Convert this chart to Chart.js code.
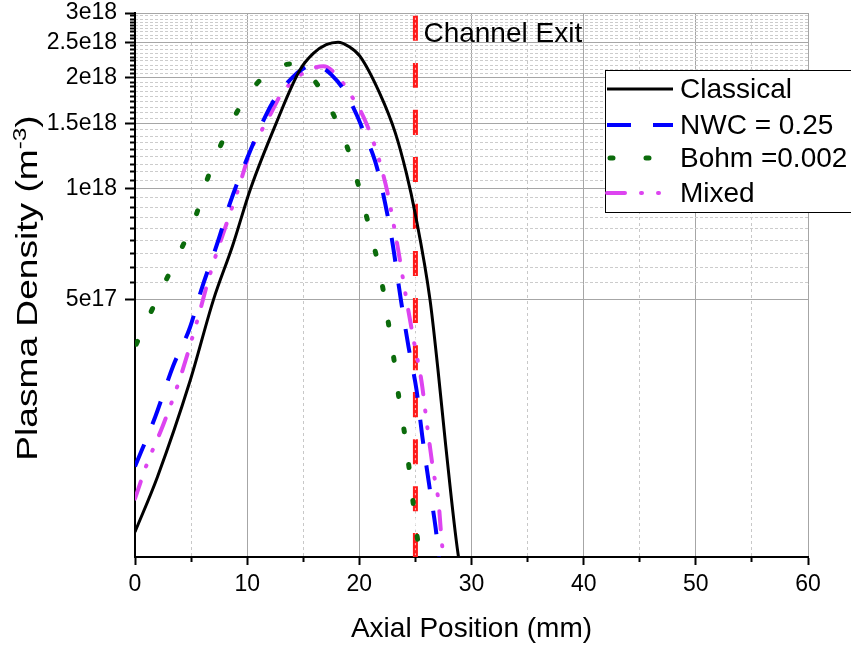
<!DOCTYPE html>
<html>
<head>
<meta charset="utf-8">
<title>Plasma Density</title>
<script src="https://cdn.jsdelivr.net/npm/chart.js@4.4.0/dist/chart.umd.min.js"></script>
<style>
  html, body { margin: 0; padding: 0; background: #fff; }
  #wrap { width: 851px; height: 647px; }
</style>
</head>
<body>
<div id="wrap"><canvas id="densityChart" width="851" height="647"></canvas></div>
<script>
/* =====================================
   Data
===================================== */
const classicalX = [0, 2, 4.9, 7, 8.7, 10.3, 12.6, 14.7, 15.9, 17.05, 18.1, 19.1, 20.05, 21.8, 23.2, 24.2, 25.0, 26.3, 27.0, 27.7, 28.8, 29.0];
const classicalY = [1.17e17, 1.65e17, 3.0e17, 5.0e17, 7.0e17, 1.0e18, 1.51e18, 2.1e18, 2.33e18, 2.46e18, 2.5e18, 2.43e18, 2.29e18, 1.82e18, 1.42e18, 1.1e18, 8.5e17, 5.0e17, 3.25e17, 2.01e17, 1.02e17, 0.95e17];

const nwcX = [0, 1.8, 3.4, 4.9, 5.9, 7.4, 8.5, 10.1, 11.7, 12.6, 14.0, 15.0, 15.8, 16.5, 17.5, 18.7, 19.75, 20.5, 21.4, 21.9, 22.9, 23.7, 24.4, 25.1, 25.6, 26.2, 26.8, 27.1];
const nwcY = [1.76e17, 2.4e17, 3.3e17, 4.2e17, 5.3e17, 7.2e17, 9.2e17, 1.23e18, 1.59e18, 1.78e18, 2.0e18, 2.12e18, 2.17e18, 2.15e18, 2.04e18, 1.84e18, 1.59e18, 1.40e18, 1.19e18, 1.04e18, 7.3e17, 5.0e17, 3.7e17, 2.84e17, 2.14e17, 1.59e17, 1.2e17, 1.0e17];

const bohmX = [0, 1.34, 2.76, 4.19, 5.44, 6.44, 7.63, 9.07, 10.8, 12.3, 13.8, 15.2, 16.35, 17.9, 19.1, 20.0, 21.0, 21.9, 22.6, 23.2, 23.6, 24.1, 24.5, 24.9, 25.3, 25.5];
const bohmY = [3.72e17, 4.57e17, 5.64e17, 6.93e17, 8.47e17, 1.06e18, 1.31e18, 1.61e18, 1.92e18, 2.1e18, 2.18e18, 2.08e18, 1.9e18, 1.54e18, 1.25e18, 1.0e18, 7.6e17, 5.8e17, 4.3e17, 3.25e17, 2.6e17, 2.1e17, 1.68e17, 1.32e17, 1.05e17, 0.95e17];

const mixedX = [0, 1.04, 2.5, 4.0, 5.8, 6.4, 7.1, 8.2, 9.1, 10.4, 11.4, 12.2, 12.9, 13.5, 15.2, 16.8, 18.3, 19.0, 19.9, 20.6, 21.4, 22.1, 22.5, 23.4, 24.2, 24.9, 25.55, 26.0, 26.6, 27.05, 27.35, 27.6];
const mixedY = [1.44e17, 1.78e17, 2.28e17, 3.05e17, 4.67e17, 5.46e17, 6.44e17, 8.1e17, 9.76e17, 1.29e18, 1.46e18, 1.62e18, 1.78e18, 1.88e18, 2.08e18, 2.15e18, 1.98e18, 1.84e18, 1.67e18, 1.51e18, 1.30e18, 1.1e18, 0.98e18, 7.0e17, 5.0e17, 3.8e17, 2.99e17, 2.33e17, 1.71e17, 1.42e17, 1.1e17, 0.95e17];

const channelExit = 25;
const channelLabel = "Channel Exit";

const xMin = 0, xMax = 60;
const xTickValues = [0, 10, 20, 30, 40, 50, 60];
const xMinorValues = [5, 15, 25, 35, 45, 55];

const yMin = 1e17, yMax = 3e18;
const yTickValues = [5e17, 1e18, 1.5e18, 2e18, 2.5e18, 3e18];
const yTickLabels = ["5e17", "1e18", "1.5e18", "2e18", "2.5e18", "3e18"];
const minorPerInterval = 8;

const yTitleMain = "Plasma Density (m";
const yTitleSup = "-3";
const yTitleEnd = ")";

/* =====================================
   Helpers
===================================== */
const FONT = "'Liberation Sans', Arial, sans-serif";

function toPoints(xs, ys) {
  return xs.map((x, i) => ({ x: x, y: ys[i] }));
}

// minor ticks: 8 evenly spaced values inside every major interval
function buildMinorTicks() {
  const out = [];
  for (let i = 0; i < yTickValues.length - 1; i++) {
    const a = yTickValues[i];
    const b = yTickValues[i + 1];
    for (let k = 1; k <= minorPerInterval; k++) {
      out.push({ value: a + (b - a) * k / (minorPerInterval + 1) });
    }
  }
  return out;
}

/* =====================================
   Plugins: legend box, channel label, y title
===================================== */
const legendBox = {
  id: "legendBox",
  afterDraw(chart) {
    const ctx = chart.ctx;
    const left = 605.5, top = 70.5, w = 270, h = 142;
    ctx.save();
    ctx.fillStyle = "#fff";
    ctx.fillRect(left, top, w, h);
    ctx.strokeStyle = "#000";
    ctx.lineWidth = 1;
    ctx.strokeRect(left, top, w, h);

    const rows = [89, 125, 158, 193];
    ctx.font = "28px " + FONT;
    ctx.textBaseline = "middle";
    for (let i = 0; i < 4; i++) {
      const ds = chart.data.datasets[i];
      ctx.beginPath();
      ctx.setLineDash(ds.borderDash || []);
      ctx.lineDashOffset = ds.borderDashOffset || 0;
      ctx.lineCap = ds.borderCapStyle || "butt";
      ctx.lineWidth = ds.borderWidth;
      ctx.strokeStyle = ds.borderColor;
      ctx.moveTo(607, rows[i]);
      ctx.lineTo(673, rows[i]);
      ctx.stroke();
      ctx.setLineDash([]);
      ctx.fillStyle = "#000";
      ctx.fillText(ds.label, 680, rows[i] + 1);
    }
    ctx.restore();
  }
};

const channelText = {
  id: "channelText",
  afterDatasetsDraw(chart) {
    const ctx = chart.ctx;
    const xs = chart.scales.x;
    ctx.save();
    ctx.font = "28px " + FONT;
    ctx.fillStyle = "#000";
    ctx.textBaseline = "alphabetic";
    ctx.fillText(channelLabel, xs.getPixelForValue(channelExit) + 8, chart.chartArea.top + 29);
    ctx.restore();
  }
};

// y title is drawn by hand so the m^-3 superscript can be kept
const yTitle = {
  id: "yTitle",
  afterDraw(chart) {
    const ctx = chart.ctx;
    const area = chart.chartArea;
    const mainFont = "29px " + FONT;
    const supFont = "19px " + FONT;
    ctx.save();
    ctx.font = mainFont;
    const wMain = ctx.measureText(yTitleMain).width;
    const wEnd = ctx.measureText(yTitleEnd).width;
    ctx.font = supFont;
    const wSup = ctx.measureText(yTitleSup).width;
    const total = wMain + wSup + wEnd;

    ctx.translate(37, (area.top + area.bottom) / 2 + 3);
    ctx.rotate(-Math.PI / 2);
    ctx.scale(1.28, 1);
    ctx.fillStyle = "#000";
    ctx.textBaseline = "alphabetic";
    ctx.textAlign = "left";
    let x = -total / 2;
    ctx.font = mainFont;
    ctx.fillText(yTitleMain, x, 0);
    x += wMain;
    ctx.font = supFont;
    ctx.fillText(yTitleSup, x, -11);
    x += wSup;
    ctx.font = mainFont;
    ctx.fillText(yTitleEnd, x, 0);
    ctx.restore();
  }
};

/* =====================================
   Chart
===================================== */
const ctx = document.getElementById("densityChart").getContext("2d");
const densityChart = new Chart(ctx, {
  type: "line",
  data: {
    datasets: [
      { label: "Classical", data: toPoints(classicalX, classicalY), borderColor: "#000000", borderWidth: 3, borderDash: [] },
      { label: "NWC = 0.25", data: toPoints(nwcX, nwcY), borderColor: "#0000ff", borderWidth: 4, borderDash: [24, 22] },
      { label: "Bohm =0.002", data: toPoints(bohmX, bohmY), borderColor: "#0b6b0b", borderWidth: 5, borderDash: [3, 33], borderDashOffset: -3, borderCapStyle: "round" },
      { label: "Mixed", data: toPoints(mixedX, mixedY), borderColor: "#dd44f0", borderWidth: 4, borderDash: [18, 16, 1, 16, 1, 16], borderCapStyle: "round" },
      { label: "exit", data: [{ x: channelExit, y: yMax }, { x: channelExit, y: yMin }], borderColor: "#ff1a1a", borderWidth: 5, borderDash: [25, 22], borderDashOffset: -3, order: 1 },
      { label: "exit-inner", data: [{ x: channelExit, y: yMax }, { x: channelExit, y: yMin }], borderColor: "rgba(255,255,255,0.7)", borderWidth: 1, borderDash: [2, 3], order: 0 }
    ]
  },
  options: {
    responsive: false,
    animation: false,
    devicePixelRatio: 1,
    layout: { padding: { top: 13, right: 43, left: 0, bottom: 0 } },
    elements: {
      point: { radius: 0, hoverRadius: 0 },
      line: { tension: 0.4, cubicInterpolationMode: "monotone", fill: false }
    },
    plugins: {
      legend: { display: false },
      tooltip: { enabled: false }
    },
    scales: {
      x: {
        type: "linear",
        position: "bottom",
        weight: 1,
        min: xMin,
        max: xMax,
        afterBuildTicks: s => { s.ticks = xTickValues.map(v => ({ value: v })); },
        afterFit: s => { s.height = 90; s.paddingLeft = 0; s.paddingRight = 0; },
        ticks: { color: "#000", font: { family: FONT, size: 23 }, padding: 6, maxRotation: 0, autoSkip: false },
        grid: { color: "#a6a6a6", lineWidth: 1, tickColor: "#000", tickLength: 8, tickWidth: 2 },
        border: { color: "#000", width: 2 },
        title: { display: true, text: "Axial Position (mm)", color: "#000", font: { family: FONT, size: 28 }, padding: { top: 0, bottom: 1 } }
      },
      xMinor: {
        type: "linear",
        position: "bottom",
        weight: 0,
        min: xMin,
        max: xMax,
        afterBuildTicks: s => { s.ticks = xMinorValues.map(v => ({ value: v })); },
        afterFit: s => { s.height = 0; },
        ticks: { display: false },
        grid: { color: "#c8c8c8", lineWidth: 1, tickColor: "#000", tickLength: 5, tickWidth: 2 },
        border: { display: false, dash: [3, 3] }
      },
      y: {
        type: "logarithmic",
        position: "left",
        weight: 1,
        min: yMin,
        max: yMax,
        bounds: "data",
        afterBuildTicks: s => { s.ticks = yTickValues.map(v => ({ value: v })); },
        afterFit: s => { s.width = 135; s.paddingTop = 0; s.paddingBottom = 0; },
        ticks: {
          color: "#000",
          font: { family: FONT, size: 23 },
          padding: 8,
          autoSkip: false,
          callback: (value) => {
            const i = yTickValues.indexOf(value);
            return i >= 0 ? yTickLabels[i] : "";
          }
        },
        grid: { color: "#a6a6a6", lineWidth: 1, tickColor: "#000", tickLength: 10, tickWidth: 2 },
        border: { color: "#000", width: 2 },
        title: { display: false }
      },
      yMinor: {
        type: "logarithmic",
        position: "left",
        weight: 0,
        min: yMin,
        max: yMax,
        bounds: "data",
        afterBuildTicks: s => { s.ticks = buildMinorTicks(); },
        afterFit: s => { s.width = 0; s.paddingTop = 0; s.paddingBottom = 0; },
        ticks: { display: false },
        grid: { color: "#cccccc", lineWidth: 1, tickColor: "#000", tickLength: 5, tickWidth: 2 },
        border: { display: false, dash: [3, 2] }
      }
    }
  },
  plugins: [channelText, legendBox, yTitle]
});
</script>
</body>
</html>
